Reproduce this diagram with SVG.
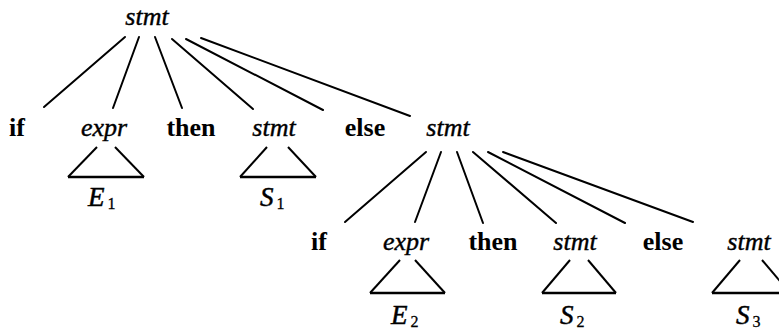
<svg xmlns="http://www.w3.org/2000/svg" width="779" height="331" viewBox="0 0 779 331">
<style>
text{font-family:"Liberation Serif","Times New Roman",serif;font-size:26px;fill:#000}
.nt{font-style:italic;text-anchor:middle;stroke:#000;stroke-width:0.4}
.kw{font-weight:bold;text-anchor:middle}
.lab{font-style:italic;font-size:27px;stroke:#000;stroke-width:0.5}
.sub{font-style:normal;font-size:16px;stroke-width:0.3}
.e{stroke:#000;stroke-width:2;stroke-linecap:round;fill:none}
.tri{stroke:#000;stroke-width:2;fill:none}
.base{stroke:#000;stroke-width:2.6;fill:none}
</style>
<rect width="779" height="331" fill="#fff"/>
<g id="connectors">
<line class="e" x1="125" y1="37" x2="44" y2="107"/>
<line class="e" x1="139" y1="37" x2="113" y2="108"/>
<line class="e" x1="155" y1="37" x2="182" y2="108"/>
<line class="e" x1="172" y1="39" x2="253" y2="109"/>
<line class="e" x1="186" y1="39" x2="323" y2="110"/>
<line class="e" x1="201" y1="38" x2="410" y2="116"/>
<line class="e" x1="426" y1="152" x2="345" y2="222"/>
<line class="e" x1="441" y1="152" x2="415" y2="222"/>
<line class="e" x1="457" y1="152" x2="483" y2="223"/>
<line class="e" x1="473" y1="152" x2="556" y2="223"/>
<line class="e" x1="488" y1="152" x2="625" y2="223"/>
<line class="e" x1="503" y1="152" x2="693" y2="222"/>
</g>
<g id="root"><text class="nt" x="147" y="25">stmt</text></g>
<g id="if1"><text class="kw" x="17" y="136">if</text></g>
<g id="expr1">
<text class="nt" x="104" y="136">expr</text>
<line class="tri" x1="97" y1="147" x2="68" y2="177"/>
<line class="tri" x1="115" y1="147" x2="144" y2="177"/>
<line class="base" x1="68" y1="177" x2="144" y2="177"/>
<text class="lab" x="88" y="206">E<tspan class="sub" dx="3" dy="3">1</tspan></text>
</g>
<g id="then1"><text class="kw" x="191" y="136">then</text></g>
<g id="stmt1">
<text class="nt" x="274" y="136">stmt</text>
<line class="tri" x1="267" y1="147" x2="240" y2="177"/>
<line class="tri" x1="288" y1="147" x2="316" y2="177"/>
<line class="base" x1="240" y1="177" x2="316" y2="177"/>
<text class="lab" x="260" y="206">S<tspan class="sub" dx="3" dy="3">1</tspan></text>
</g>
<g id="else1"><text class="kw" x="365" y="136">else</text></g>
<g id="stmt2"><text class="nt" x="448" y="136">stmt</text></g>
<g id="if2"><text class="kw" x="319" y="250">if</text></g>
<g id="expr2">
<text class="nt" x="406" y="250">expr</text>
<line class="tri" x1="400" y1="260" x2="370" y2="293"/>
<line class="tri" x1="415" y1="260" x2="445" y2="293"/>
<line class="base" x1="370" y1="293" x2="445" y2="293"/>
<text class="lab" x="391" y="324">E<tspan class="sub" dx="3" dy="3">2</tspan></text>
</g>
<g id="then2"><text class="kw" x="493" y="250">then</text></g>
<g id="stmt3">
<text class="nt" x="575" y="250">stmt</text>
<line class="tri" x1="570" y1="260" x2="542" y2="293"/>
<line class="tri" x1="588" y1="260" x2="616" y2="293"/>
<line class="base" x1="542" y1="293" x2="616" y2="293"/>
<text class="lab" x="560" y="324">S<tspan class="sub" dx="3" dy="3">2</tspan></text>
</g>
<g id="else2"><text class="kw" x="663" y="250">else</text></g>
<g id="stmt4">
<text class="nt" x="749" y="250">stmt</text>
<line class="tri" x1="740" y1="260" x2="712" y2="293"/>
<line class="tri" x1="762" y1="260" x2="790" y2="293"/>
<line class="base" x1="712" y1="293" x2="790" y2="293"/>
<text class="lab" x="736" y="324">S<tspan class="sub" dx="3" dy="3">3</tspan></text>
</g>
</svg>
